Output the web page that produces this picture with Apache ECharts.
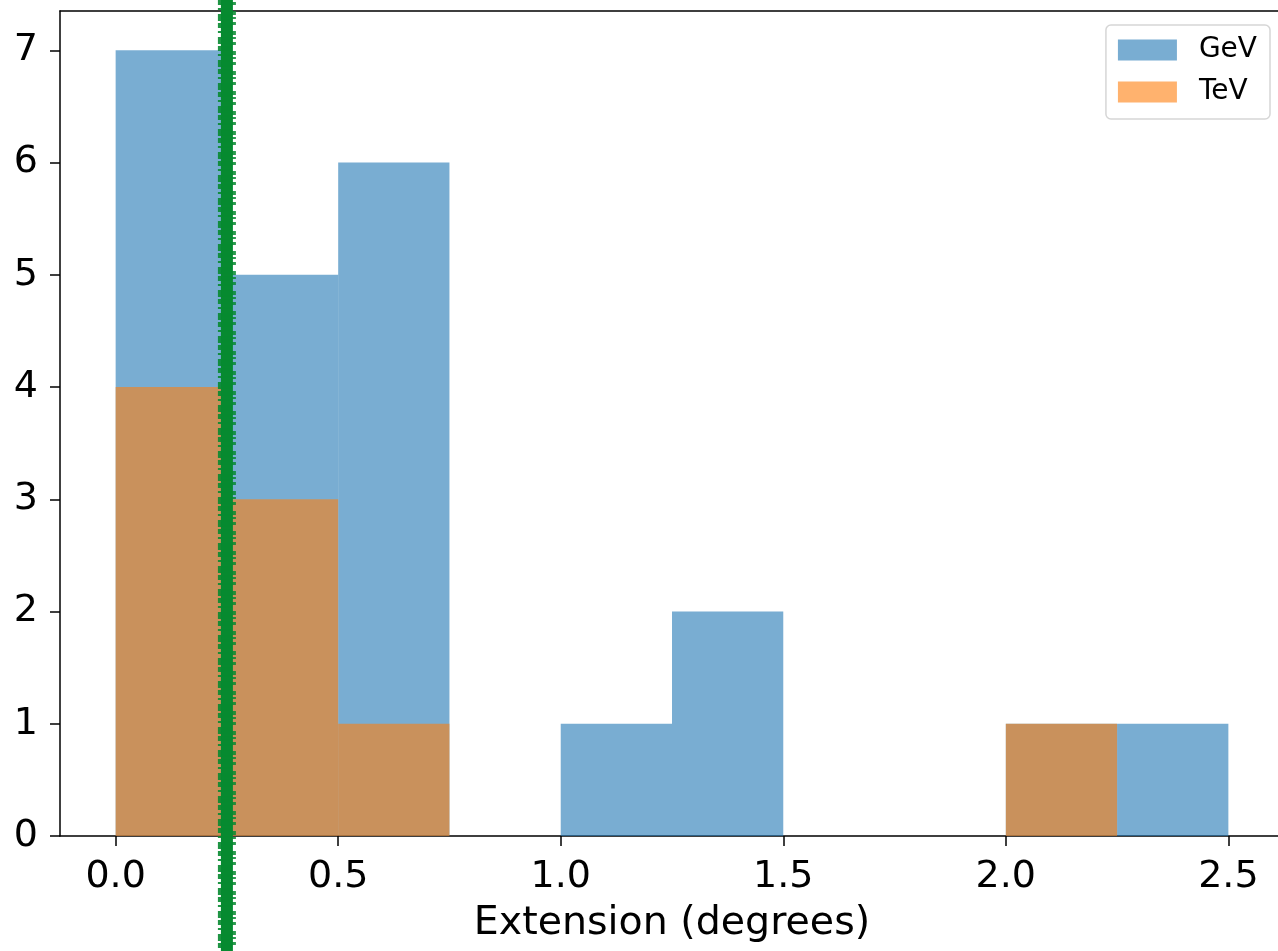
<!DOCTYPE html>
<html>
<head>
<meta charset="utf-8">
<script src="https://cdn.jsdelivr.net/npm/echarts@6/dist/echarts.min.js"></script>
<style>
  html, body { margin: 0; padding: 0; background: #fff; }
  #chart { width: 1278px; height: 951px; }
</style>
</head>
<body>
<div id="chart"></div>
<script>
// histogram bins (degrees) and counts
const binEdges = [0.0, 0.25, 0.5, 0.75, 1.0, 1.25, 1.5, 1.75, 2.0, 2.25, 2.5];
const gevCounts = [7, 5, 6, 0, 1, 2, 0, 0, 1, 1];
const tevCounts = [4, 3, 1, 0, 0, 0, 0, 0, 1, 0];
const xTicks = [0.0, 0.5, 1.0, 1.5, 2.0, 2.5];
const yTicks = [0, 1, 2, 3, 4, 5, 6, 7];
const cutLine = [0.25];

function binsOf(counts) {
  return counts.map((c, i) => [binEdges[i], binEdges[i + 1], c]);
}

function renderBin(params, api) {
  const p0 = api.coord([api.value(0), api.value(2)]);
  const p1 = api.coord([api.value(1), 0]);
  return {
    type: 'rect',
    shape: { x: p0[0], y: p0[1], width: p1[0] - p0[0], height: p1[1] - p0[1] },
    style: { fill: api.visual('color') }
  };
}

const chart = echarts.init(document.getElementById('chart'));

const option = {
  animation: false,
  textStyle: { fontFamily: 'DejaVu Sans' },
  grid: {
    left: 60, top: 11, width: 1224, bottom: 115,
    outerBoundsMode: 'none'
  },
  legend: {
    data: ['GeV', 'TeV'],
    orient: 'vertical',
    right: 8, top: 25,
    padding: [11, 13, 13, 12],
    itemWidth: 59, itemHeight: 21, itemGap: 14,
    icon: 'rect',
    backgroundColor: '#fff',
    borderColor: '#d6d6d6', borderWidth: 1.5, borderRadius: 5,
    textStyle: { fontSize: 28, color: '#000', padding: [0, 0, 0, 17] }
  },
  xAxis: [
    {
      type: 'value',
      min: -0.125, max: 2.625,
      name: 'Extension (degrees)',
      nameLocation: 'middle',
      nameGap: 68,
      nameTextStyle: { fontSize: 39.5, color: '#000' },
      axisLine: { onZero: false, lineStyle: { color: '#000', width: 1.5 } },
      axisTick: { show: true, length: 10, lineStyle: { color: '#000', width: 1.5 }, customValues: xTicks },
      axisLabel: {
        fontSize: 38, color: '#000', margin: 22,
        customValues: xTicks,
        formatter: v => v.toFixed(1)
      },
      splitLine: { show: false }
    },
    {
      // top spine only
      type: 'value',
      position: 'top',
      min: -0.125, max: 2.625,
      axisLine: { show: true, onZero: false, lineStyle: { color: '#000', width: 1.5 } },
      axisTick: { show: false },
      axisLabel: { show: false },
      splitLine: { show: false }
    }
  ],
  yAxis: {
    type: 'value',
    min: 0, max: 7.35,
    axisLine: { show: true, onZero: false, lineStyle: { color: '#000', width: 1.5 } },
    axisTick: { show: true, length: 10, lineStyle: { color: '#000', width: 1.5 }, customValues: yTicks },
    axisLabel: { fontSize: 38, color: '#000', margin: 22, customValues: yTicks },
    splitLine: { show: false }
  },
  series: [
    {
      name: 'GeV',
      type: 'custom',
      renderItem: renderBin,
      itemStyle: { color: 'rgba(31,119,180,0.6)' },
      encode: { x: [0, 1], y: 2 },
      data: binsOf(gevCounts),
      z: 2
    },
    {
      name: 'TeV',
      type: 'custom',
      renderItem: renderBin,
      itemStyle: { color: 'rgba(255,127,14,0.6)' },
      encode: { x: [0, 1], y: 2 },
      data: binsOf(tevCounts),
      z: 3
    },
    {
      name: 'cut',
      type: 'custom',
      clip: false,
      z: 10,
      data: cutLine.map(v => [v]),
      encode: { x: 0 },
      renderItem: function (params, api) {
        const x = api.coord([api.value(0), 0])[0];
        const h = api.getHeight();
        return {
          type: 'group',
          children: [
            { type: 'line', shape: { x1: x, y1: 0, x2: x, y2: h },
              style: { stroke: '#078a30', lineWidth: 12 } },
            { type: 'line', shape: { x1: x - 2, y1: 0, x2: x - 2, y2: h },
              style: { stroke: '#078a30', lineWidth: 14, lineDash: [5, 3, 2, 4, 7, 2], opacity: 0.9 } },
            { type: 'line', shape: { x1: x + 2, y1: 2, x2: x + 2, y2: h },
              style: { stroke: '#078a30', lineWidth: 14, lineDash: [3, 6, 4, 2, 2, 3], opacity: 0.85 } }
          ]
        };
      }
    }
  ]
};

chart.setOption(option);
</script>
</body>
</html>
